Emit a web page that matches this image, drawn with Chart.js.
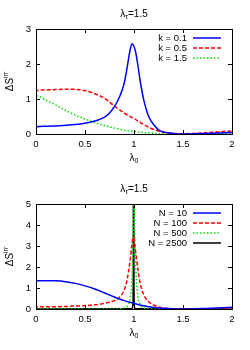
<!DOCTYPE html>
<html>
<head>
<meta charset="utf-8">
<script src="https://cdn.jsdelivr.net/npm/chart.js@4"></script>
<style>
  body { margin: 0; background: #fff; }
  canvas { display: block; }
</style>
</head>
<body>
<canvas id="topChart" width="250" height="175"></canvas>
<canvas id="bottomChart" width="250" height="175"></canvas>
<script>
// top panel: varying k
const kLabels = ['k = 0.1', 'k = 0.5', 'k = 1.5'];
const k1X = [0, 0.001, 0.2, 0.4, 0.5, 0.6, 0.7, 0.75, 0.8, 0.85, 0.9, 0.93, 0.96, 0.98, 1.0, 1.02, 1.04, 1.07, 1.1, 1.15, 1.2, 1.25, 1.3, 1.4, 1.5, 1.6, 1.8, 2.0];
const k1Y = [0, 0.21, 0.23, 0.27, 0.31, 0.37, 0.48, 0.6, 0.78, 1.05, 1.45, 1.9, 2.4, 2.58, 2.5, 2.3, 1.95, 1.4, 0.97, 0.5, 0.27, 0.12, 0.06, 0.015, 0.0, 0.005, 0.02, 0.04];
const k2X = [0, 0.001, 0.1, 0.2, 0.35, 0.5, 0.6, 0.7, 0.8, 0.9, 1.0, 1.1, 1.2, 1.3, 1.4, 1.5, 1.6, 1.7, 1.8, 1.9, 2.0];
const k2Y = [0, 1.24, 1.26, 1.27, 1.28, 1.24, 1.15, 1.02, 0.8, 0.6, 0.44, 0.27, 0.13, 0.05, 0.02, 0.01, 0.015, 0.03, 0.05, 0.07, 0.085];
const k3X = [0, 0.001, 0.1, 0.2, 0.3, 0.4, 0.5, 0.6, 0.7, 0.8, 0.9, 1.0, 1.1, 1.2, 1.3, 1.5, 1.7, 2.0];
const k3Y = [0, 1.09, 0.97, 0.83, 0.68, 0.54, 0.43, 0.33, 0.24, 0.17, 0.11, 0.07, 0.04, 0.02, 0.01, 0.0, 0.005, 0.02];

// bottom panel: varying N
const nLabels = ['N = 10', 'N = 100', 'N = 500', 'N = 2500'];
const n1X = [0, 0.001, 0.1, 0.2, 0.3, 0.4, 0.5, 0.6, 0.7, 0.8, 0.9, 1.0, 1.1, 1.2, 1.3, 1.4, 1.5, 1.7, 2.0];
const n1Y = [0, 1.34, 1.35, 1.34, 1.3, 1.22, 1.1, 0.95, 0.76, 0.57, 0.4, 0.27, 0.15, 0.07, 0.03, 0.01, 0.0, 0.02, 0.08];
const n2X = [0, 0.001, 0.2, 0.4, 0.6, 0.7, 0.8, 0.85, 0.9, 0.93, 0.96, 0.98, 0.99, 1.0, 1.02, 1.04, 1.06, 1.1, 1.15, 1.2, 1.3, 1.5, 2.0];
const n2Y = [0, 0.1, 0.11, 0.14, 0.2, 0.27, 0.4, 0.55, 0.9, 1.4, 2.3, 3.1, 3.42, 3.3, 2.6, 1.9, 1.3, 0.67, 0.35, 0.19, 0.05, 0.0, 0.0];
const n3X = [0, 0.85, 0.9, 0.94, 0.96, 0.98, 0.99, 0.995, 1.0, 1.005, 1.01, 1.02, 1.04, 1.06, 1.1, 1.2, 2.0];
const n3Y = [0, 0.01, 0.05, 0.2, 0.5, 1.5, 3.0, 4.5, 5.5, 4.5, 3.2, 1.8, 0.6, 0.25, 0.05, 0.01, 0];
const n4X = [0, 0.98, 0.99, 0.993, 0.996, 0.999, 1.002, 1.01, 2.0];
const n4Y = [0, 0.02, 0.3, 2, 10, 2, 0.3, 0.02, 0];

const xTicks = [0, 0.5, 1, 1.5, 2];

const FONT = '"Liberation Sans", Arial, sans-serif';

function pts(xs, ys) {
    return xs.map((x, i) => ({ x: x, y: ys[i] }));
}

function ds(label, xs, ys, color, dash) {
    return {
        label: label,
        data: pts(xs, ys),
        borderColor: color,
        borderWidth: 1.5,
        borderDash: dash,
        pointRadius: 0,
        fill: false,
        cubicInterpolationMode: 'monotone'
    };
}

function drawText(ctx, parts, cx, cy) {
    // parts: [text, size, dy]
    let w = 0;
    parts.forEach(p => { ctx.font = p[1] + 'px ' + FONT; w += ctx.measureText(p[0]).width; });
    let x = cx - w / 2;
    ctx.textBaseline = 'middle';
    ctx.textAlign = 'left';
    parts.forEach(p => {
        ctx.font = p[1] + 'px ' + FONT;
        ctx.fillText(p[0], x, cy + p[2]);
        x += ctx.measureText(p[0]).width;
    });
}

const gnuplotLook = {
    id: 'gnuplotLook',
    afterDraw(chart) {
        const ctx = chart.ctx;
        const a = chart.chartArea;
        const xs = chart.scales.x, ys = chart.scales.y;
        ctx.save();
        ctx.strokeStyle = '#000';
        ctx.lineWidth = 1;
        ctx.strokeRect(Math.round(a.left) + 0.5, Math.round(a.top) + 0.5, Math.round(a.right - a.left), Math.round(a.bottom - a.top));
        ctx.beginPath();
        xTicks.forEach(v => {
            const px = Math.round(xs.getPixelForValue(v)) + 0.5;
            ctx.moveTo(px, a.bottom); ctx.lineTo(px, a.bottom - 4);
            ctx.moveTo(px, a.top); ctx.lineTo(px, a.top + 4);
        });
        ys.ticks.forEach(t => {
            const py = Math.round(ys.getPixelForValue(t.value)) + 0.5;
            ctx.moveTo(a.left, py); ctx.lineTo(a.left + 4, py);
            ctx.moveTo(a.right, py); ctx.lineTo(a.right - 4, py);
        });
        ctx.stroke();

        ctx.fillStyle = '#000';
        const midX = (a.left + a.right) / 2;
        drawText(ctx, [['λ', 10, 0], ['τ', 7, 3], ['=1.5', 10, 0]], midX, 14);
        drawText(ctx, [['λ', 10, 0], ['0', 7, 3]], midX, a.bottom + 24);

        ctx.save();
        ctx.translate(10, (a.top + a.bottom) / 2);
        ctx.rotate(-Math.PI / 2);
        drawText(ctx, [['ΔS', 10, 0], ['irr', 7, -4]], 0, 0);
        ctx.restore();

        // legend
        chart.data.datasets.forEach((d, i) => {
            const y = a.top + 9 + i * 10;
            ctx.font = '9.5px ' + FONT;
            ctx.textAlign = 'right';
            ctx.textBaseline = 'middle';
            ctx.fillText(d.label, 187, y);
            ctx.beginPath();
            ctx.strokeStyle = d.borderColor;
            ctx.lineWidth = d.borderWidth;
            ctx.setLineDash(d.borderDash || []);
            ctx.moveTo(193, y);
            ctx.lineTo(221, y);
            ctx.stroke();
            ctx.setLineDash([]);
        });
        ctx.restore();
    }
};

function makeChart(id, datasets, yMax) {
    return new Chart(document.getElementById(id), {
        type: 'line',
        data: { datasets: datasets },
        options: {
            responsive: false,
            animation: false,
            layout: { padding: { top: 29, right: 18, left: 0, bottom: 0 } },
            plugins: { legend: { display: false }, tooltip: { enabled: false } },
            scales: {
                x: {
                    type: 'linear', min: 0, max: 2,
                    afterBuildTicks: s => { s.ticks = xTicks.map(v => ({ value: v })); },
                    ticks: { color: '#000', font: { family: FONT, size: 9.5 }, padding: 5, maxRotation: 0,
                             callback: v => String(v) },
                    grid: { display: false, drawTicks: false },
                    border: { display: false },
                    afterFit: s => { s.height = 41; }
                },
                y: {
                    min: 0, max: yMax,
                    ticks: { stepSize: 1, color: '#000', font: { family: FONT, size: 9.5 }, padding: 5,
                             callback: v => String(v) },
                    grid: { display: false, drawTicks: false },
                    border: { display: false },
                    afterFit: s => { s.width = 36; }
                }
            }
        },
        plugins: [gnuplotLook]
    });
}

makeChart('topChart', [
    ds(kLabels[0], k1X, k1Y, '#0000ff', []),
    ds(kLabels[1], k2X, k2Y, '#ff0000', [4, 2]),
    ds(kLabels[2], k3X, k3Y, '#00e000', [1.5, 2])
], 3);

makeChart('bottomChart', [
    ds(nLabels[0], n1X, n1Y, '#0000ff', []),
    ds(nLabels[1], n2X, n2Y, '#ff0000', [4, 2]),
    ds(nLabels[2], n3X, n3Y, '#00e000', [1.5, 2]),
    ds(nLabels[3], n4X, n4Y, '#000000', [])
], 5);
</script>
</body>
</html>
